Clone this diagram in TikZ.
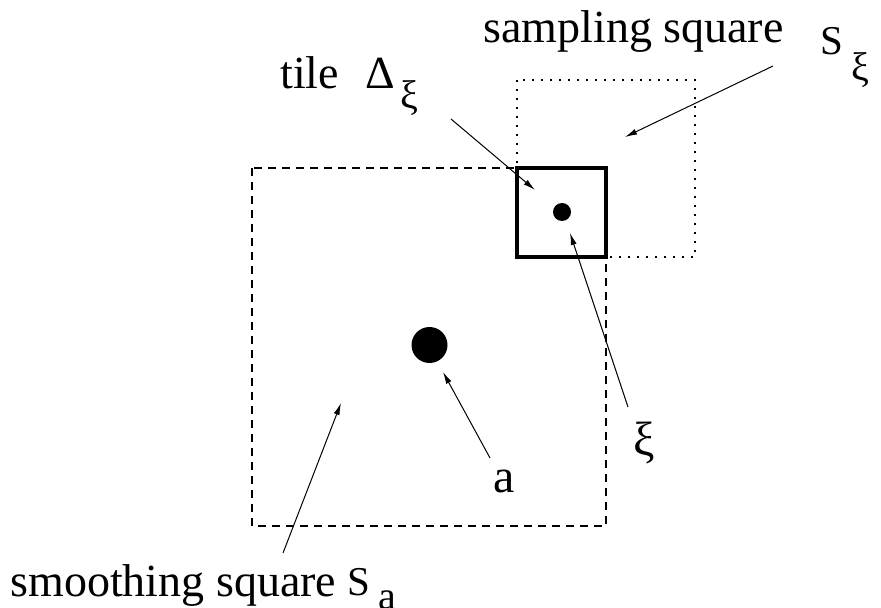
\documentclass[tikz,border=0pt]{standalone}
\usepackage{fontspec}
\setmainfont{Liberation Serif}
\newfontfamily\timesface{Liberation Serif}
\usetikzlibrary{arrows.meta}

\tikzset{
  txt/.style={inner sep=0pt, anchor=base west, font=\timesface\fontsize{23}{27}\selectfont},
  sym/.style={inner sep=0pt, anchor=base west, font=\timesface\fontsize{24}{28}\selectfont},
  pointer/.style={line width=0.5pt, -{Latex[length=6pt,width=3pt]}},
  smoothbox/.style={line width=0.6pt, dash pattern=on 4pt off 3pt},
  samplebox/.style={line width=0.8pt, dash pattern=on 0.8pt off 3.7pt},
  tilebox/.style={line width=1.6pt},
  dot/.style={circle, fill, inner sep=0pt}
}
\newcommand{\lowsub}[3]{\hspace{#1}\raisebox{-#2}{\timesface\fontsize{20}{23}\selectfont #3}}

\begin{document}
\begin{tikzpicture}[x=0.5pt, y=-0.5pt]
  \useasboundingbox (0,0) rectangle (881,608);

  % Squares
  \draw[smoothbox] (252,168) rectangle (606,526);
  \draw[samplebox] (517,80) rectangle (695,257);
  \draw[tilebox] (517,168) rectangle (606,257);

  % Points
  \node[dot, minimum size=18pt] (pta) at (429.5,345) {};
  \node[dot, minimum size=9pt] (ptxi) at (562,212) {};

  % Labels
  \node[txt] (sampling) at (483,43) {sampling square};
  \node[txt, font=\timesface\fontsize{20.5}{24}\selectfont] (Sxi) at (820,55)
    {S\lowsub{4pt}{13pt}{ξ}};
  \node[txt] (tile) at (280,89)
    {tile\hspace{13pt}Δ\lowsub{3pt}{10pt}{ξ}};
  \node[sym] (xi) at (633,455) {ξ};
  \node[sym] (alab) at (493,492) {a};
  \node[txt] (smoothing) at (10,596) {smoothing square};
  \node[txt, font=\timesface\fontsize{20.5}{24}\selectfont] (Sa) at (347,595)
    {S\lowsub{4pt}{7pt}{a}};

  % Pointers
  \coordinate (sampTail) at (773,66);  \coordinate (sampTip) at (625,137);
  \coordinate (tileTail) at (451,119); \coordinate (tileTip) at (535,190);
  \coordinate (xiTail) at (628,407);   \coordinate (xiTip) at (570,233);
  \coordinate (aTail) at (490,458);    \coordinate (aTip) at (443,372);
  \coordinate (smTail) at (283,553);   \coordinate (smTip) at (341,403);
  \foreach \from/\to in {sampTail/sampTip, tileTail/tileTip, xiTail/xiTip, aTail/aTip, smTail/smTip}
    \draw[pointer] (\from) -- (\to);
\end{tikzpicture}
\end{document}
